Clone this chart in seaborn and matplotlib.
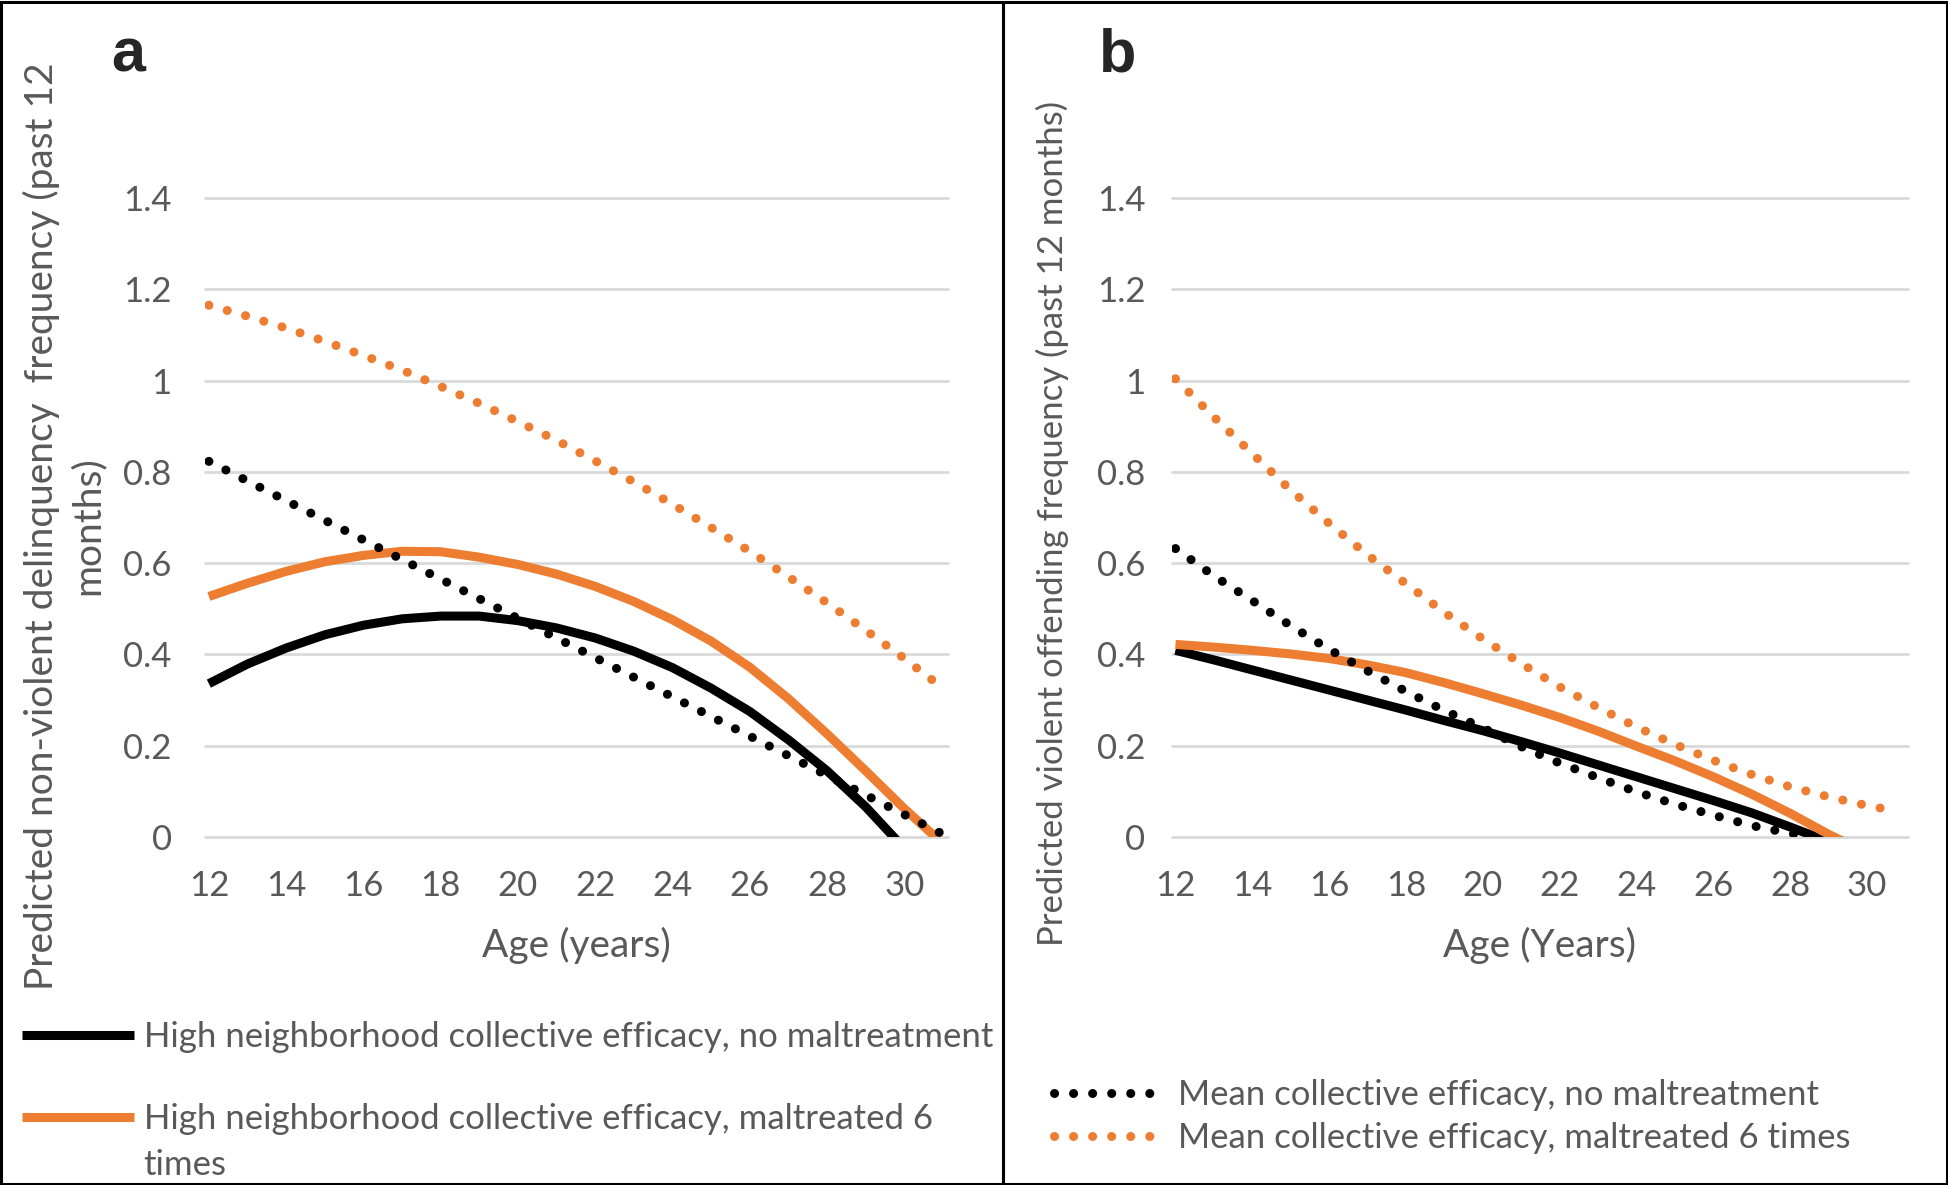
import matplotlib
matplotlib.use("Agg")
import matplotlib.pyplot as plt
from matplotlib.patches import Rectangle
import seaborn as sns

# --- data (ages in years, predicted frequency) ---
ages = list(range(12, 32))  # 12 .. 31

# panel a: non-violent delinquency
a_high_none = [0.336, 0.379, 0.414, 0.443, 0.464, 0.478, 0.484, 0.484, 0.474, 0.458,
               0.436, 0.407, 0.371, 0.326, 0.275, 0.213, 0.145, 0.066, -0.025]
a_high_mal = [0.527, 0.556, 0.582, 0.603, 0.617, 0.626, 0.625, 0.613, 0.597, 0.576,
              0.549, 0.516, 0.476, 0.429, 0.372, 0.303, 0.226, 0.145, 0.062, -0.015]
a_mean_none = [0.823, 0.780, 0.737, 0.694, 0.651, 0.608, 0.565, 0.522, 0.479, 0.436,
               0.393, 0.350, 0.307, 0.264, 0.221, 0.178, 0.135, 0.092, 0.049, 0.006]
a_mean_mal = [1.165, 1.141, 1.115, 1.086, 1.055, 1.023, 0.987, 0.950, 0.910, 0.869,
              0.824, 0.778, 0.729, 0.678, 0.626, 0.570, 0.513, 0.453, 0.391, 0.326]

# panel b: violent offending
b_high_none = [0.409, 0.388, 0.366, 0.344, 0.322, 0.300, 0.278, 0.255, 0.233, 0.209,
               0.184, 0.158, 0.132, 0.106, 0.080, 0.053, 0.022, -0.010]
b_high_mal = [0.422, 0.416, 0.409, 0.401, 0.391, 0.377, 0.360, 0.338, 0.314, 0.289,
              0.262, 0.232, 0.199, 0.167, 0.132, 0.094, 0.052, 0.006, -0.035]
b_mean_none = [0.632, 0.572, 0.518, 0.463, 0.411, 0.364, 0.319, 0.277, 0.239, 0.198,
               0.162, 0.130, 0.099, 0.072, 0.048, 0.025, 0.008, -0.007]
b_ages_mean_mal = list(range(12, 31)) + [30.5]
b_mean_mal = [1.004, 0.920, 0.840, 0.760, 0.687, 0.618, 0.555, 0.492, 0.434, 0.380,
              0.329, 0.284, 0.241, 0.203, 0.168, 0.137, 0.110, 0.088, 0.069, 0.061]

x_ticks = list(range(12, 31, 2))
y_ticks = [0, 0.2, 0.4, 0.6, 0.8, 1.0, 1.2, 1.4]
y_tick_labels = ["0", "0.2", "0.4", "0.6", "0.8", "1", "1.2", "1.4"]

legend_a = ["High neighborhood collective efficacy, no maltreatment",
            "High neighborhood collective efficacy, maltreated 6"]
legend_b = ["Mean collective efficacy, no maltreatment",
            "Mean collective efficacy, maltreated 6 times"]

BLACK = "#000000"
ORANGE = "#ED7D31"
GREY_TXT = "#595959"
GRID = "#D9D9D9"
LW = 6.5
DOTS = (0, (0.01, 2.1))
FS = 25

sns.set_style("white")
plt.rcParams["font.family"] = ["Lato", "DejaVu Sans"]

W, H = 1949, 1185
fig = plt.figure(figsize=(W / 100, H / 100), dpi=100)


def fx(px):
    return px / W


def fy(py):
    return 1 - py / H


def style_axis(ax, xlim, ypad):
    ax.set_xlim(*xlim)
    ax.set_ylim(0, 1.4)
    ax.set_xticks(x_ticks)
    ax.set_yticks(y_ticks)
    ax.set_yticklabels(y_tick_labels)
    ax.grid(axis="y", color=GRID, lw=2.0)
    ax.grid(axis="x", visible=False)
    for gl in ax.get_ygridlines():
        gl.set_clip_on(False)
    ax.set_axisbelow(True)
    sns.despine(ax=ax, left=True, bottom=True)
    ax.tick_params(axis="both", length=0, labelsize=FS, labelcolor=GREY_TXT)
    ax.tick_params(axis="x", pad=24)
    ax.tick_params(axis="y", pad=ypad)
    ax.set_ylabel("")


# ---- panel a ----
ax_a = fig.add_axes([fx(205), fy(837), fx(948 - 205), (837 - 198) / H])
sns.lineplot(x=ages[:len(a_high_none)], y=a_high_none, ax=ax_a, color=BLACK, lw=LW,
             label=legend_a[0], solid_capstyle="butt")
sns.lineplot(x=ages[:len(a_high_mal)], y=a_high_mal, ax=ax_a, color=ORANGE, lw=LW,
             label=legend_a[1], solid_capstyle="butt")
sns.lineplot(x=ages, y=a_mean_none, ax=ax_a, color=BLACK, lw=LW, linestyle=DOTS,
             dash_capstyle="round", legend=False)
sns.lineplot(x=ages, y=a_mean_mal, ax=ax_a, color=ORANGE, lw=LW, linestyle=DOTS,
             dash_capstyle="round", legend=False)
style_axis(ax_a, (11.9, 31.13), 24)
ax_a.set_xlabel("Age (years)", fontsize=28, color=GREY_TXT, labelpad=18)
ax_a.legend(loc="upper left", bbox_to_anchor=(fx(22), fy(1021)),
            bbox_transform=fig.transFigure, frameon=False, fontsize=FS,
            handlelength=3.23, handletextpad=0.27, labelspacing=1.45,
            borderpad=0, borderaxespad=0, labelcolor=GREY_TXT)
fig.text(fx(143), fy(1165), "times", fontsize=FS, color=GREY_TXT,
         ha="left", va="center")

# ---- panel b ----
ax_b = fig.add_axes([fx(1172), fy(837), fx(1908 - 1172), (837 - 198) / H])
sns.lineplot(x=ages[:len(b_high_none)], y=b_high_none, ax=ax_b, color=BLACK, lw=LW,
             solid_capstyle="butt", legend=False)
sns.lineplot(x=ages[:len(b_high_mal)], y=b_high_mal, ax=ax_b, color=ORANGE, lw=LW,
             solid_capstyle="butt", legend=False)
sns.lineplot(x=ages[:len(b_mean_none)], y=b_mean_none, ax=ax_b, color=BLACK, lw=LW,
             linestyle=DOTS, dash_capstyle="round", label=legend_b[0])
sns.lineplot(x=b_ages_mean_mal, y=b_mean_mal, ax=ax_b, color=ORANGE, lw=LW,
             linestyle=DOTS, dash_capstyle="round", label=legend_b[1])
style_axis(ax_b, (11.91, 31.07), 19)
ax_b.set_xlabel("Age (Years)", fontsize=28, color=GREY_TXT, labelpad=18)
ax_b.legend(loc="upper left", bbox_to_anchor=(fx(1054), fy(1079)),
            bbox_transform=fig.transFigure, frameon=False, fontsize=FS,
            handlelength=3.0, handletextpad=0.58, labelspacing=0.33,
            borderpad=0, borderaxespad=0, labelcolor=GREY_TXT)

# ---- y labels, panel letters, frames ----
fig.text(fx(64), fy(526),
         "Predicted non-violent delinquency  frequency (past 12\nmonths)",
         rotation=90, ha="center", va="center", multialignment="center",
         linespacing=1.33, fontsize=28, color=GREY_TXT)
fig.text(fx(1052), fy(523),
         "Predicted violent offending frequency (past 12 months)",
         rotation=90, ha="center", va="center", fontsize=25, color=GREY_TXT)
fig.text(fx(111), fy(71), "a", fontsize=44, fontweight="bold",
         family="Liberation Sans", ha="left", va="baseline")
fig.text(fx(1099), fy(71), "b", fontsize=44, fontweight="bold",
         family="Liberation Sans", ha="left", va="baseline")

for x0, x1 in [(1.5, 1003.5), (1003.5, 1947.5)]:
    fig.add_artist(Rectangle((fx(x0), fy(1183.5)), fx(x1 - x0), (1183.5 - 1.5) / H,
                             transform=fig.transFigure, fill=False,
                             ec="black", lw=2.2))

fig.savefig("out.png", dpi=100, facecolor="white")
